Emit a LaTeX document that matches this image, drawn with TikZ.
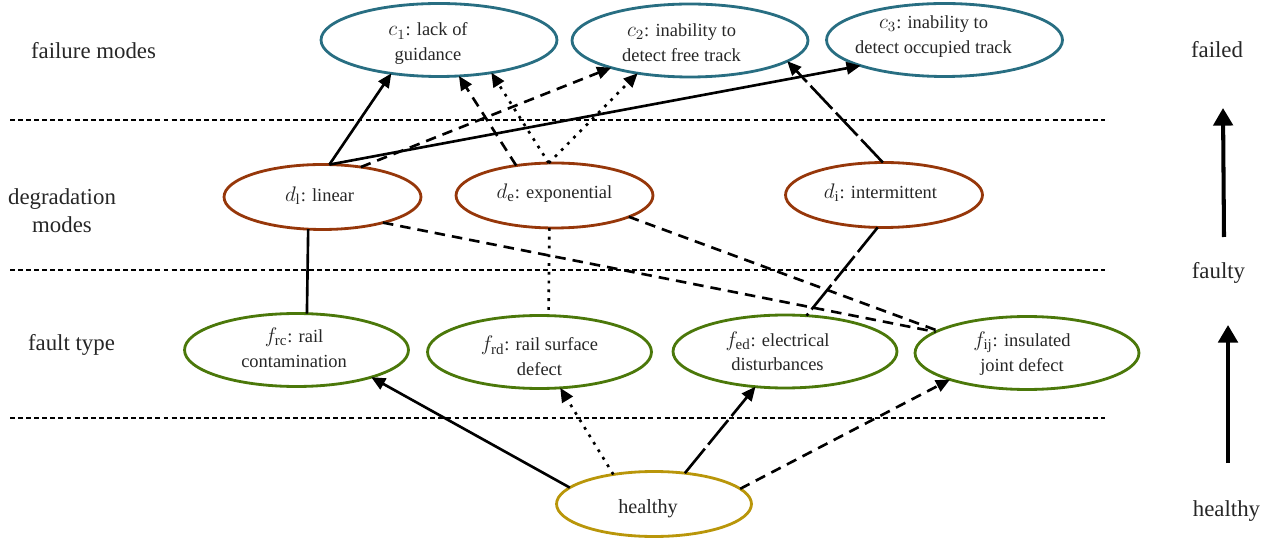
\documentclass[tikz,border=0pt]{standalone}
\usepackage{fontspec}
\setmainfont{Liberation Serif}
\usetikzlibrary{arrows.meta,shapes.geometric}
\DeclareMathSizes{10.5}{11.5}{8.5}{6.5}
\definecolor{cblue}{RGB}{40,110,130}
\definecolor{dbrown}{RGB}{150,55,10}
\definecolor{fgreen}{RGB}{75,120,10}
\definecolor{hgold}{RGB}{185,150,10}
\colorlet{ink}{black!85}
% #1: twice the leftward text shift, #2: downward text shift, #3: text
\newcommand\ntext[3]{\makebox[0pt]{\raisebox{\dimexpr 0pt-(#2)-2.6pt\relax}[0pt][0pt]{\begin{tabular}{@{}c@{}}#3\end{tabular}}\kern#1}}
\tikzset{
  state/.style={ellipse, draw, line width=1.6pt, inner sep=0pt, outer sep=0pt, text=ink, font=\fontsize{10.5}{14}\selectfont},
  cmode/.style={state, draw=cblue, minimum width=4.72cm, minimum height=1.46cm},
  dmode/.style={state, draw=dbrown, minimum width=3.94cm, minimum height=1.3cm},
  fmode/.style={state, draw=fgreen, minimum width=4.48cm, minimum height=1.46cm},
  hmode/.style={state, draw=hgold, minimum width=3.9cm, minimum height=1.3cm, font=\fontsize{11.5}{14}\selectfont},
  lbl/.style={font=\fontsize{13}{16}\selectfont, text=ink, align=center, inner sep=0pt},
  sep/.style={line width=0.9pt, dash pattern=on 2.8pt off 1.8pt},
  link/.style={line width=1.5pt},
  arr/.style={link, -{Triangle[length=8pt,width=7pt]}},
  dsh/.style={dash pattern=on 6pt off 4pt},
  ldsh/.style={dash pattern=on 18pt off 3pt},
  dts/.style={dash pattern=on 1.6pt off 3.4pt},
  bigarr/.style={line width=2.3pt, -{Triangle[length=10pt,width=11pt]}},
}
\begin{document}
\begin{tikzpicture}[x=0.02cm, y=-0.02cm]
\useasboundingbox (0,0) rectangle (1280,543);

% separators
\coordinate (s1a) at (10,120);  \coordinate (s1b) at (1105,120);
\coordinate (s2a) at (10,270);  \coordinate (s2b) at (1105,270);
\coordinate (s3a) at (10,418);  \coordinate (s3b) at (1105,418);
\draw[sep] (s1a) -- (s1b);
\draw[sep] (s2a) -- (s2b);
\draw[sep] (s3a) -- (s3b);

% level labels
\node[lbl] (lfm) at (93.5,51) {failure modes};
\node[lbl] (ldm) at (62,211) {degradation\\modes};
\node[lbl] (lft) at (71.5,345) {fault type};
\node[lbl] (rfd) at (1217,50) {failed};
\node[lbl] (rfy) at (1218.5,273) {faulty};
\node[lbl] (rhy) at (1226.5,511) {healthy};

% side arrows
\coordinate (a1s) at (1224,237); \coordinate (a1e) at (1223,108);
\coordinate (a2s) at (1228,463); \coordinate (a2e) at (1228,325);
\draw[bigarr] (a1s) -- (a1e);
\draw[bigarr] (a2s) -- (a2e);

% nodes
\node[cmode] (c1) at (439,40) {\ntext{12.5pt}{2.3pt}{$c_1$: lack of\\guidance}};
\node[cmode] (c2) at (690,40.5) {\ntext{9.7pt}{2.3pt}{$c_2$: inability to\\detect free track}};
\node[cmode] (c3) at (944.5,40) {\ntext{12.5pt}{-1.9pt}{$c_3$: inability to\\detect occupied track}};
\node[dmode] (d1) at (322.5,197) {\ntext{3.4pt}{0pt}{$d_\mathrm{l}$: linear}};
\node[dmode] (de) at (554.5,195.5) {\ntext{0pt}{-0.5pt}{$d_\mathrm{e}$: exponential}};
\node[dmode] (di) at (884,195) {\ntext{4pt}{-0.5pt}{$d_\mathrm{i}$: intermittent}};
\node[fmode] (frc) at (296.5,350) {\ntext{2.8pt}{0.3pt}{$f_\mathrm{rc}$: rail\\contamination}};
\node[fmode] (frd) at (539.5,352) {\ntext{0pt}{4pt}{$f_\mathrm{rd}$: rail surface\\defect}};
\node[fmode] (fed) at (785,351.5) {\ntext{8.5pt}{1.5pt}{$f_\mathrm{ed}$: electrical\\disturbances}};
\node[fmode] (fij) at (1027,353) {\ntext{5.7pt}{0.9pt}{$f_\mathrm{ij}$: insulated\\joint defect}};
\node[hmode] (h) at (654,504) {\ntext{6.8pt}{3pt}{healthy}};

% degradation -> failure
\draw[arr] (d1.78) -- (c1.-145);
\draw[arr] (d1.78) -- (c3.-163);
\draw[arr,dsh] (d1.38) -- (c2.-161);
\draw[arr,dsh] (de.142) -- (c1.-61);
\draw[arr,dts] (de.100) -- (c1.-32);
\draw[arr,dts] (de.100) -- (c2.-148);
\draw[arr,ldsh] (di.92) -- (c2.-12);

% fault -- degradation
\draw[link] (d1.-114) -- (frc.74);
\draw[link,dts] (de.-99) -- (frd.76);
\draw[link,dsh] (d1.-23) -- (fij.167);
\draw[link,dsh] (de.-16) -- (fij.166);
\draw[link,ldsh] (di.-101) -- (fed.59);

% healthy -> fault
\draw[arr] (h.169) -- (frc.-20);
\draw[arr,dts] (h.144) -- (frd.-60);
\draw[arr,ldsh] (h.45) -- (fed.-130);
\draw[arr,dsh] (h.10) -- (fij.-161);
\end{tikzpicture}
\end{document}
